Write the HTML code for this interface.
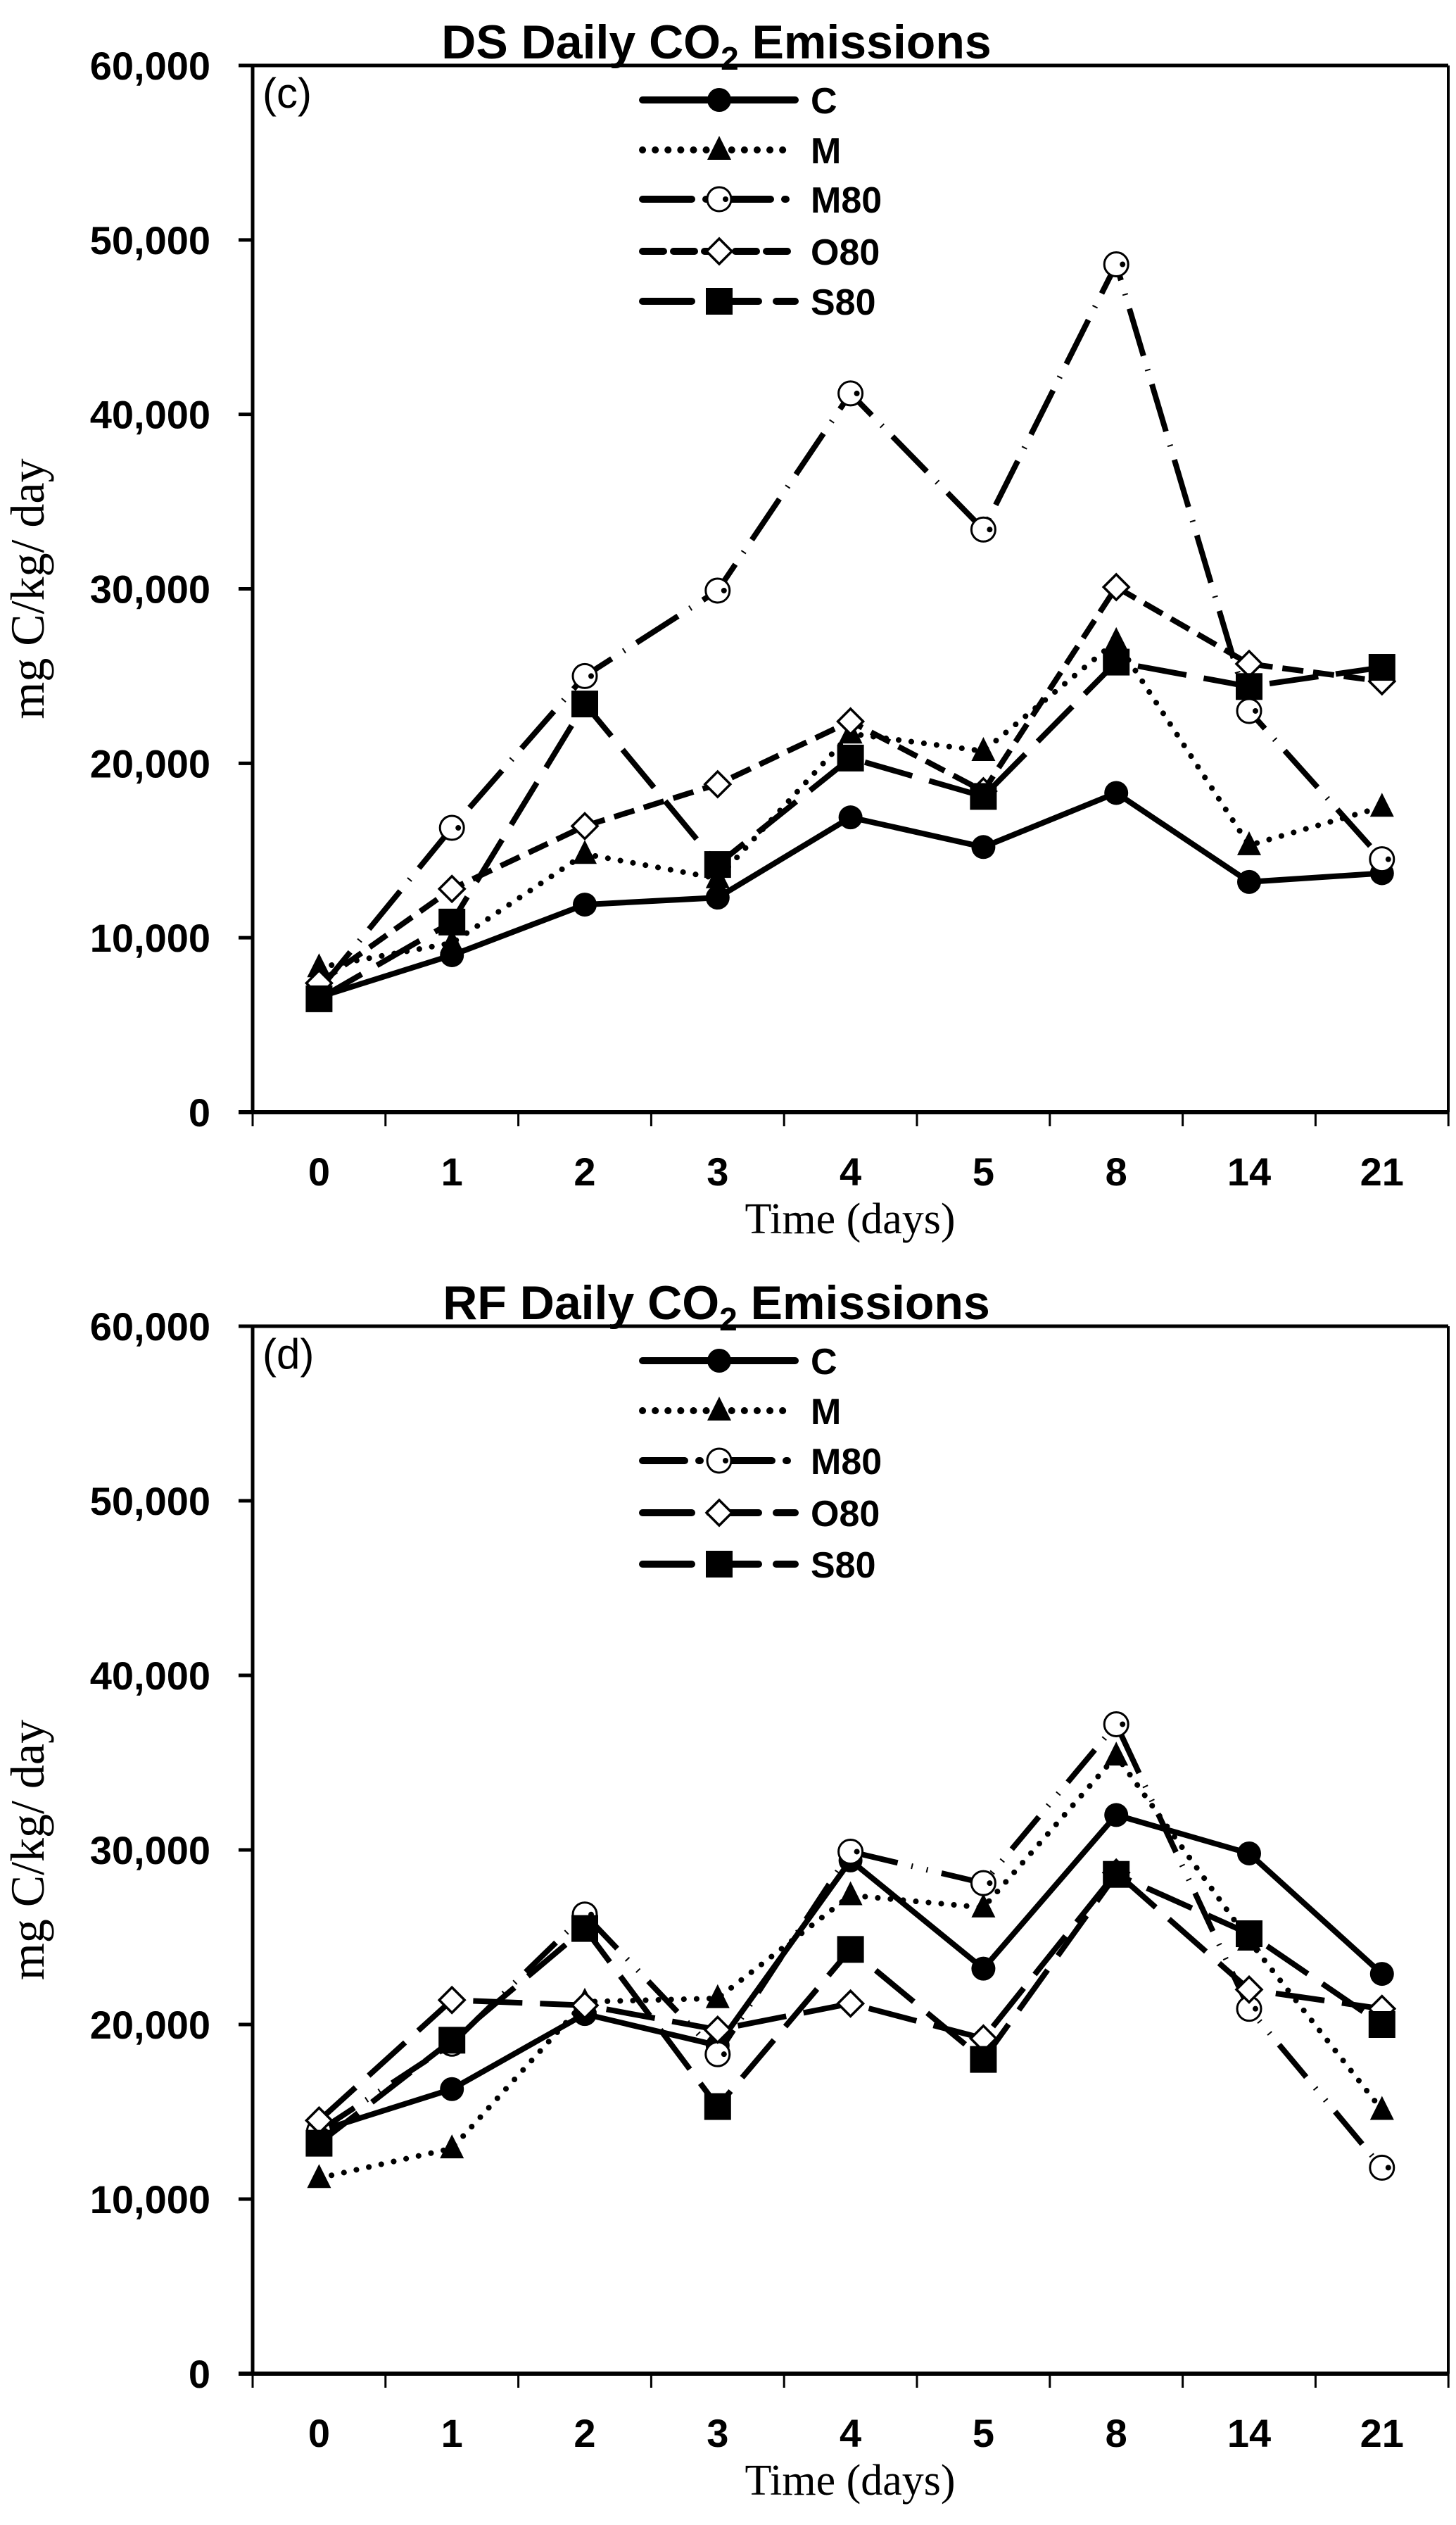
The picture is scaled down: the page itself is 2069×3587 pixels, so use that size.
<!DOCTYPE html>
<html><head><meta charset="utf-8"><style>
html,body{margin:0;padding:0;background:#fff}
svg{display:block}
.t{font-family:"Liberation Sans",Arial,sans-serif;font-weight:bold}
.s{font-family:"Liberation Serif",serif}
.n{font-family:"Liberation Sans",Arial,sans-serif}
</style></head><body>
<svg id="g" width="2069" height="3587" viewBox="0 0 2069 3587" xmlns="http://www.w3.org/2000/svg"></svg>
<script>
const NS="http://www.w3.org/2000/svg",g=document.getElementById('g');
function el(t,a,txt){const e=document.createElementNS(NS,t);for(const k in a)e.setAttribute(k,a[k]);if(txt!==undefined)e.textContent=txt;g.appendChild(e);return e;}
const L=359,R=2058,cats=["0","1","2","3","4","5","8","14","21"];
const xs=i=>L+94.4+i*188.8;
function marker(type,x,y){
 if(type=='c')el('circle',{cx:x,cy:y,r:17,fill:'#000'});
 if(type=='t')el('polygon',{points:`${x},${y-20} ${x+17},${y+14} ${x-17},${y+14}`,fill:'#000'});
 if(type=='o'){el('circle',{cx:x,cy:y,r:17,fill:'#fff',stroke:'#000','stroke-width':3});el('circle',{cx:x+9,cy:y,r:4,fill:'#000'});}
 if(type=='d')el('polygon',{points:`${x},${y-18} ${x+18},${y} ${x},${y+18} ${x-18},${y}`,fill:'#fff',stroke:'#000','stroke-width':3.5});
 if(type=='s')el('rect',{x:x-19,y:y-19,width:38,height:38,fill:'#000'});
}
function chart(T,B,title,lab,series,legY){
 const sc=(B-T)/60;
 el('line',{x1:L,y1:T,x2:R,y2:T,stroke:'#000','stroke-width':5});
 el('line',{x1:R,y1:T,x2:R,y2:B,stroke:'#000','stroke-width':4});
 el('line',{x1:L,y1:T,x2:L,y2:B,stroke:'#000','stroke-width':5});
 el('line',{x1:L-20,y1:B,x2:R,y2:B,stroke:'#000','stroke-width':6});
 for(let v=0;v<=60;v+=10){const y=B-v*sc;el('line',{x1:L-20,y1:y,x2:L,y2:y,stroke:'#000','stroke-width':5});
  el('text',{x:L-60,y:y+20,'text-anchor':'end','font-size':56,class:'t'},v==0?'0':(v+',000'));}
 for(let i=0;i<=9;i++){const x=L+i*188.8;el('line',{x1:x,y1:B,x2:x,y2:B+20,stroke:'#000','stroke-width':3});}
 cats.forEach((c,i)=>el('text',{x:xs(i),y:B+104,'text-anchor':'middle','font-size':56,class:'t'},c));
 el('text',{x:1208,y:B+172,'text-anchor':'middle','font-size':62,class:'s'},'Time (days)');
 const my=(T+B)/2;
 el('text',{x:62,y:my,'text-anchor':'middle','font-size':68,class:'s',transform:`rotate(-90 62 ${my})`},'mg C/kg/ day');
 const tt=el('text',{x:1018,y:T-10,'text-anchor':'middle','font-size':68,class:'t'});
 tt.innerHTML=title+' Daily CO<tspan font-size="46" dy="16">2</tspan><tspan dy="-16"> Emissions</tspan>';
 el('text',{x:L+14,y:T+60,'font-size':60,class:'n'},lab);
 series.forEach((s,k)=>{
  const pts=s.v.map((v,i)=>[xs(i),B-v*sc]);
  el('polyline',{points:pts.map(p=>p.join(',')).join(' '),fill:'none',stroke:'#000','stroke-width':8,'stroke-dasharray':s.d,'stroke-linecap':s.cap||'butt','stroke-linejoin':'round'});
  pts.forEach(p=>marker(s.m,p[0],p[1]));
  const ly=legY[k];
  el('line',{x1:913,y1:ly,x2:1130,y2:ly,stroke:'#000','stroke-width':10,'stroke-dasharray':s.d,'stroke-linecap':s.cap||'round'});
  marker(s.m,1022,ly);
  el('text',{x:1152,y:ly+19,'font-size':52,class:'t'},s.n);
 });
}
chart(93,1580,'DS','(c)',[
 {n:'C',m:'c',d:'none',v:[6.6,9,11.9,12.3,16.9,15.2,18.3,13.2,13.7]},
 {n:'M',m:'t',d:'0.1 18',cap:'round',v:[8.3,9.7,14.8,13.4,21.7,20.7,27,15.3,17.5]},
 {n:'M80',m:'o',d:'70 20 2 20',v:[7,16.3,25,29.9,41.2,33.4,48.6,23,14.5]},
 {n:'O80',m:'d',d:'30 14',v:[7.4,12.8,16.4,18.8,22.4,18.4,30.1,25.7,24.7]},
 {n:'S80',m:'s',d:'70 25',v:[6.5,10.9,23.4,14.2,20.3,18.1,25.8,24.4,25.5]}
],[142,213,283,357,428]);
chart(1884,3372,'RF','(d)',[
 {n:'C',m:'c',d:'none',v:[13.9,16.3,20.6,18.8,29.4,23.2,32,29.8,22.9]},
 {n:'M',m:'t',d:'0.1 18',cap:'round',v:[11.2,12.9,21.3,21.5,27.4,26.7,35.4,24.8,15.1]},
 {n:'M80',m:'o',d:'60 20 2 20 2 20',v:[13.9,18.9,26.3,18.3,29.9,28.1,37.2,20.9,11.8]},
 {n:'O80',m:'d',d:'70 25',v:[14.5,21.4,21.1,19.7,21.2,19.2,28.7,22,20.9]},
 {n:'S80',m:'s',d:'70 25',v:[13.2,19.1,25.5,15.3,24.3,18,28.6,25.2,20]}
],[1933,2004,2075,2149,2222]);
</script>
</body></html>
